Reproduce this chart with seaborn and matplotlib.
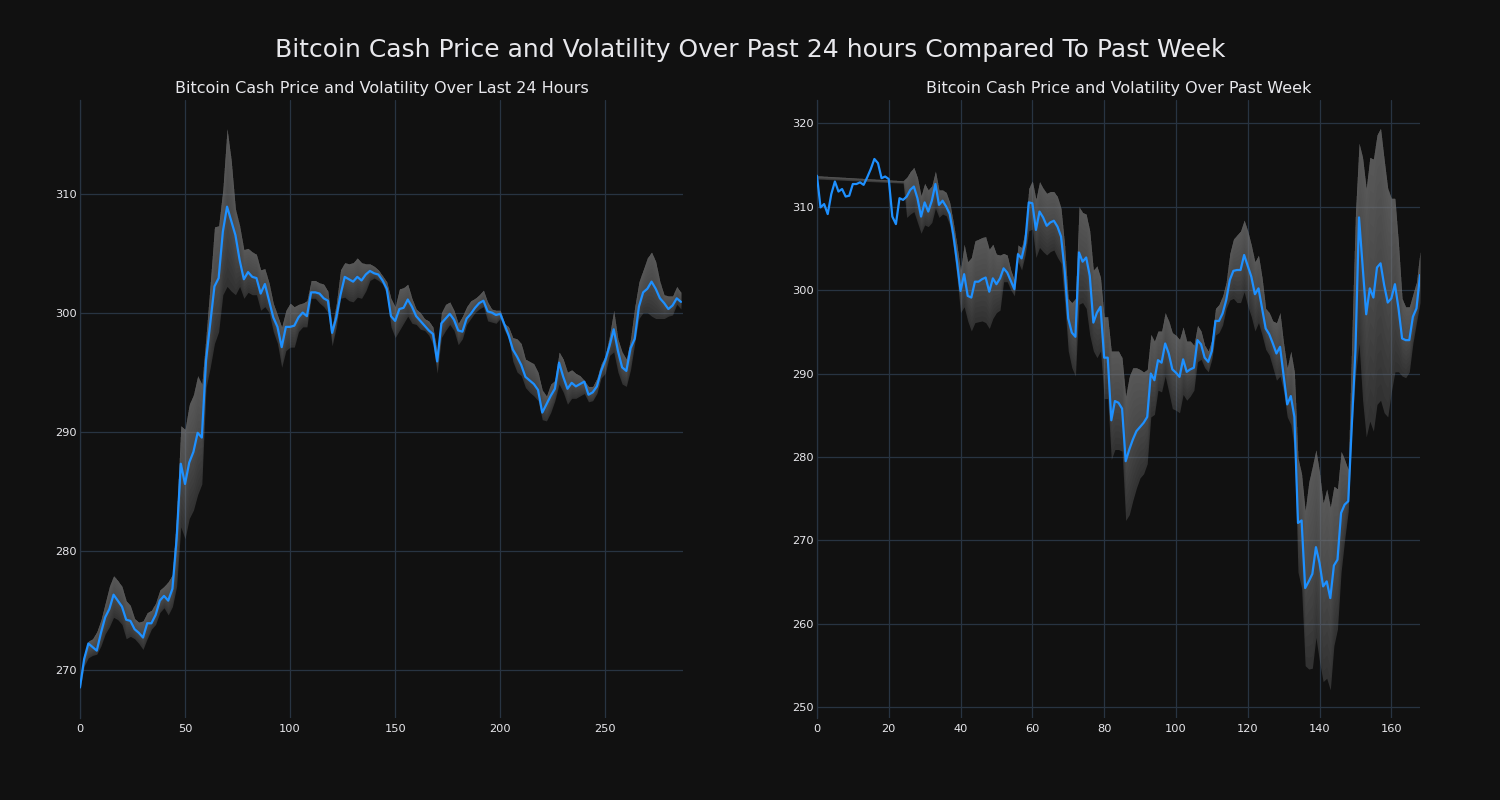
import numpy as np
import pandas as pd
import matplotlib
matplotlib.use("Agg")
from matplotlib import pyplot as plt
import seaborn as sns

# last 24 hours, read every second sample (5 min steps)
day_x = np.arange(0, 288, 2)
day_price = [268.5, 270.9, 272.2, 271.9, 271.6, 273.1, 274.4, 275.1, 276.3, 275.8,
             275.3, 274.2, 274.1, 273.4, 273.1, 272.7, 273.9, 273.9, 274.6, 275.8,
             276.2, 275.8, 276.8, 281.0, 287.3, 285.6, 287.4, 288.3, 289.9, 289.5,
             296.0, 299.1, 302.2, 302.9, 306.8, 308.9, 307.7, 306.5, 304.4, 302.8,
             303.4, 303.0, 302.9, 301.6, 302.4, 301.0, 299.6, 298.8, 297.1, 298.8,
             298.8, 298.9, 299.6, 300.0, 299.7, 301.7, 301.7, 301.6, 301.2, 301.0,
             298.3, 299.6, 301.5, 303.0, 302.8, 302.6, 303.0, 302.7, 303.2, 303.5,
             303.3, 303.2, 302.7, 302.0, 299.7, 299.3, 300.3, 300.4, 301.1, 300.5,
             299.7, 299.3, 298.9, 298.5, 298.2, 295.9, 299.1, 299.5, 299.9, 299.4,
             298.5, 298.4, 299.5, 299.9, 300.4, 300.8, 301.0, 300.1, 300.0, 299.8,
             299.9, 299.0, 298.1, 296.9, 296.3, 295.6, 294.6, 294.3, 294.0, 293.5,
             291.6, 292.3, 293.0, 293.6, 295.8, 294.6, 293.6, 294.1, 293.8, 294.0,
             294.2, 293.1, 293.3, 293.8, 295.1, 296.0, 297.2, 298.6, 296.8, 295.4,
             295.1, 297.0, 297.8, 300.5, 301.7, 302.0, 302.6, 302.0, 301.2, 300.8,
             300.3, 300.6, 301.2, 300.9]
day_upper = [268.9, 271.3, 272.4, 272.6, 273.2, 274.2, 275.6, 277.0, 277.9, 277.5,
             277.0, 275.8, 275.4, 274.3, 274.0, 274.1, 274.8, 275.0, 275.6, 276.7,
             277.0, 277.4, 278.0, 283.0, 290.5, 290.2, 292.3, 293.1, 294.7, 294.0,
             298.1, 302.5, 307.2, 307.3, 310.4, 315.5, 312.8, 308.7, 307.3, 305.3,
             305.4, 305.1, 304.9, 303.6, 303.7, 302.5, 300.8, 299.8, 298.8, 300.2,
             300.8, 300.5, 300.7, 300.8, 301.0, 302.7, 302.7, 302.5, 302.4, 301.8,
             298.8, 300.8, 303.6, 304.2, 304.1, 304.2, 304.6, 304.2, 304.1, 304.1,
             303.9, 303.6, 303.1, 302.6, 301.2, 300.5, 302.0, 302.1, 302.4, 301.2,
             300.3, 300.0, 299.5, 299.3, 298.8, 296.7, 300.0, 300.7, 300.9, 300.2,
             299.1, 299.7, 300.5, 301.0, 301.2, 301.5, 301.9, 300.9, 300.3, 300.2,
             300.2, 299.1, 298.8, 297.9, 297.8, 297.4, 296.1, 295.9, 295.7, 295.0,
             293.5, 293.0, 294.0, 294.3, 296.7, 296.1, 295.0, 295.2, 294.9, 294.7,
             294.3, 293.8, 293.8, 294.5, 295.7, 296.4, 298.1, 300.2, 297.8, 296.7,
             296.1, 297.8, 300.5, 302.6, 303.6, 304.6, 305.1, 304.3, 302.6, 301.5,
             301.4, 301.4, 302.2, 301.7]
day_lower = [268.3, 270.3, 271.0, 271.2, 271.3, 272.0, 273.0, 273.6, 274.4, 274.2,
             273.8, 272.6, 272.8, 272.6, 272.2, 271.7, 272.6, 273.4, 273.8, 274.8,
             275.2, 274.6, 275.3, 277.0, 282.0, 281.0, 282.7, 283.4, 284.7, 285.6,
             293.7, 295.4, 297.4, 298.4, 301.5, 302.2, 301.8, 301.5, 302.2, 301.2,
             301.7, 301.5, 301.5, 300.2, 300.5, 300.0, 298.4, 297.4, 295.4, 296.8,
             297.1, 297.1, 298.4, 298.8, 298.8, 301.2, 301.2, 300.8, 300.5, 300.0,
             297.2, 298.8, 301.2, 301.3, 301.0, 300.9, 301.3, 301.2, 301.8, 302.7,
             302.9, 302.7, 302.4, 301.5, 298.8, 297.9, 298.5, 299.1, 299.7, 299.1,
             299.0, 298.6, 298.5, 298.1, 297.3, 294.9, 297.9, 298.5, 299.0, 298.5,
             297.3, 297.8, 299.0, 299.5, 300.0, 300.3, 300.5, 299.3, 299.2, 299.1,
             299.5, 298.5, 297.8, 295.9, 295.0, 294.7, 293.7, 293.3, 293.0, 292.6,
             291.0, 290.9, 291.6, 292.6, 294.0, 293.3, 292.3, 292.8, 292.8, 293.0,
             293.2, 292.5, 292.6, 293.2, 294.5, 294.9, 296.4, 296.7, 295.0, 294.0,
             293.8, 295.2, 297.4, 299.5, 300.0, 300.0, 299.7, 299.5, 299.5, 299.5,
             299.7, 299.8, 300.7, 300.3]

# past week, hourly
week_x = np.arange(0, 169)
week_price = [313.7, 309.9, 310.3, 309.1, 311.5, 313.0, 311.8, 312.1, 311.2, 311.3,
              312.7, 312.7, 312.9, 312.6, 313.5, 314.5, 315.7, 315.2, 313.4, 313.6,
              313.3, 308.8, 307.9, 311.0, 310.8, 311.2, 312.0, 312.4, 311.0, 308.8,
              310.5, 309.4, 310.7, 312.7, 310.2, 310.7, 310.0, 309.1, 306.6, 303.4,
              299.9, 301.9, 299.3, 299.1, 301.0, 301.0, 301.3, 301.5, 299.8, 301.4,
              300.7, 301.4, 302.6, 302.1, 301.1, 300.1, 304.3, 303.8, 305.6, 310.5,
              310.4, 307.2, 309.4, 308.7, 307.7, 308.1, 308.3, 307.6, 306.4, 302.4,
              296.6, 294.9, 294.4, 304.5, 303.4, 303.9, 301.7, 296.1, 297.3, 298.0,
              291.9, 291.9, 284.4, 286.7, 286.5, 285.8, 279.5, 280.9, 282.1, 283.1,
              283.6, 284.1, 284.8, 290.0, 289.2, 291.6, 291.3, 293.6, 292.4, 290.5,
              290.1, 289.6, 291.7, 290.2, 290.5, 290.7, 294.0, 293.5, 291.9, 291.4,
              292.7, 296.3, 296.3, 297.2, 298.8, 301.2, 302.3, 302.4, 302.4, 304.2,
              302.9, 301.6, 299.5, 300.2, 297.8, 295.4, 294.7, 293.6, 292.4, 293.2,
              289.7, 286.3, 287.3, 284.8, 272.1, 272.4, 264.3, 265.1, 266.0, 269.2,
              267.3, 264.5, 265.1, 263.1, 267.0, 267.7, 273.3, 274.3, 274.7, 283.9,
              292.7, 308.7, 302.9, 297.1, 300.2, 299.1, 302.7, 303.2, 300.6, 298.5,
              299.0, 300.7, 297.8, 294.2, 294.0, 294.0, 296.8, 297.8, 301.8]

# the band starts at hour 0 and then runs from hour 24 on
week_band_x = np.concatenate([[0], np.arange(24, 169)])
week_upper = [313.7, 313.1,
              313.5, 314.2, 314.7, 313.5, 311.3, 312.8, 312.0, 312.5, 314.3, 312.0,
              312.0, 311.7, 310.5, 308.1, 305.4, 302.4, 305.5, 303.4, 303.9, 305.9,
              306.1, 306.3, 306.4, 304.9, 305.5, 304.3, 304.2, 304.4, 304.2, 302.4,
              301.2, 305.4, 305.1, 307.1, 312.2, 313.1, 310.9, 313.0, 312.2, 311.6,
              311.8, 311.8, 311.2, 309.8, 305.4, 299.0, 298.5, 299.0, 310.0, 309.3,
              309.1, 307.1, 302.4, 302.9, 301.5, 296.8, 296.8, 292.7, 292.7, 292.7,
              291.9, 287.3, 289.7, 290.7, 290.7, 290.5, 290.2, 290.5, 294.7, 293.9,
              295.1, 295.1, 297.3, 296.3, 294.9, 294.6, 294.1, 295.6, 293.9, 293.9,
              293.4, 295.8, 295.1, 293.4, 292.7, 294.1, 297.8, 298.3, 299.3, 301.0,
              304.4, 306.1, 306.6, 307.1, 308.4, 307.1, 305.4, 303.4, 304.2, 301.5,
              297.8, 297.3, 296.3, 296.1, 297.3, 293.6, 290.7, 292.7, 290.2, 279.9,
              278.0, 273.6, 277.0, 278.9, 280.9, 278.2, 274.5, 276.2, 274.0, 276.5,
              276.2, 280.7, 279.7, 278.5, 294.6, 309.3, 317.6, 315.9, 312.2, 315.9,
              315.7, 318.6, 319.4, 315.7, 312.2, 311.0, 311.0, 305.6, 299.0, 298.0,
              298.0, 299.5, 301.0, 304.7]
week_lower = [313.3, 312.8,
              308.7, 309.1, 309.4, 308.1, 306.8, 307.8, 307.6, 308.1, 309.8, 308.7,
              309.1, 308.9, 307.8, 305.1, 301.5, 297.3, 298.0, 296.3, 295.1, 296.1,
              296.2, 296.3, 296.1, 295.4, 296.6, 297.3, 297.6, 301.0, 301.0, 300.0,
              299.3, 303.4, 302.4, 304.2, 307.1, 307.3, 303.9, 305.1, 304.6, 304.2,
              304.6, 304.8, 303.9, 303.2, 298.5, 292.7, 290.7, 289.7, 298.3, 298.5,
              297.8, 294.6, 292.7, 291.9, 292.7, 287.0, 287.0, 279.7, 280.9, 280.9,
              280.7, 272.4, 273.1, 274.8, 276.3, 277.5, 278.0, 279.2, 284.8, 285.1,
              288.0, 287.8, 289.7, 287.8, 285.8, 285.6, 285.3, 287.5, 286.8, 287.3,
              288.0, 291.4, 291.7, 290.7, 290.2, 291.7, 294.6, 294.9, 295.8, 297.8,
              298.8, 299.0, 298.5, 298.5, 299.8, 298.1, 296.8, 295.1, 296.1, 294.6,
              292.9, 292.2, 290.7, 289.2, 289.7, 287.8, 284.8, 283.9, 280.9, 266.2,
              264.3, 255.0, 254.6, 254.7, 258.4, 255.5, 253.1, 253.5, 252.1, 257.4,
              259.4, 266.2, 270.1, 273.5, 283.3, 289.7, 293.6, 286.8, 282.4, 284.3,
              283.1, 286.3, 286.8, 285.3, 284.8, 287.8, 290.2, 290.2, 289.7, 289.5,
              290.2, 293.6, 296.1, 298.5]

BG = "#111111"
GRID = "#283442"
TXT = "#e8e8ec"
BAND = "#808080"

sns.set_theme(style="darkgrid", rc={
    "figure.facecolor": BG,
    "axes.facecolor": BG,
    "grid.color": GRID,
    "grid.linewidth": 0.9,
    "axes.labelcolor": TXT,
    "text.color": TXT,
    "xtick.color": TXT,
    "ytick.color": TXT,
})
plt.rcParams["font.family"] = ["DejaVu Sans"]


def draw_panel(ax, x, price, bx, lower, upper, title, xmax):
    lower = np.asarray(lower)
    upper = np.asarray(upper)
    # base band, then thin layers stacked toward the top -> lighter at the top
    ax.fill_between(bx, lower, upper, color=BAND, alpha=0.3, linewidth=0, zorder=1)
    n_layers = 15
    for k in range(1, n_layers + 1):
        start = lower + (upper - lower) * k / (n_layers + 1)
        ax.fill_between(bx, start, upper, color=BAND, alpha=0.05, linewidth=0, zorder=1)
    df = pd.DataFrame({"x": x, "price": price})
    sns.lineplot(data=df, x="x", y="price", ax=ax, color="#1e90ff", linewidth=1.6, zorder=3)
    lo = min(lower.min(), np.min(price))
    hi = max(upper.max(), np.max(price))
    pad = (hi - lo) * 0.05
    ax.set_ylim(lo - pad, hi + pad)
    ax.set_xlim(0, xmax)
    ax.set_xlabel("")
    ax.set_ylabel("")
    ax.set_title(title, color=TXT, fontsize=11.5, pad=5)
    ax.tick_params(length=0, labelsize=8.2)
    ax.tick_params(axis="y", pad=2)
    ax.tick_params(axis="x", pad=4)
    for side in ["top", "right", "bottom"]:
        ax.spines[side].set_visible(False)
    ax.spines["left"].set_color(GRID)
    ax.spines["left"].set_linewidth(0.9)


fig, axes = plt.subplots(1, 2, figsize=(15, 8), dpi=100)
fig.subplots_adjust(left=0.0533, right=0.9467, bottom=0.1025, top=0.875, wspace=0.222)

draw_panel(axes[0], day_x, day_price, day_x, day_lower, day_upper,
           "Bitcoin Cash Price and Volatility Over Last 24 Hours", 287)
draw_panel(axes[1], week_x, week_price, week_band_x, week_lower, week_upper,
           "Bitcoin Cash Price and Volatility Over Past Week", 168)

fig.suptitle("Bitcoin Cash Price and Volatility Over Past 24 hours Compared To Past Week",
             fontsize=18, y=0.9375, va="center", color=TXT)

fig.savefig("out.png", facecolor=BG)
